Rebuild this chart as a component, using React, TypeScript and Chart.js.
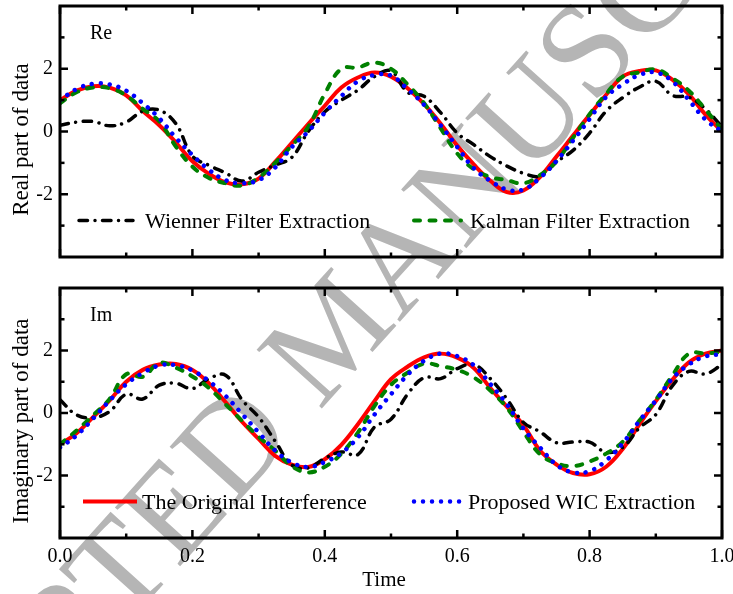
import React, { useEffect, useRef } from 'react';
import { Chart, registerables } from 'chart.js';

Chart.register(...registerables);

// ---------- data ----------
const TIME = [
  0, 0.025, 0.05, 0.075, 0.1, 0.125, 0.15, 0.175, 0.2, 0.225,
  0.25, 0.275, 0.3, 0.325, 0.35, 0.375, 0.4, 0.425, 0.45, 0.475,
  0.5, 0.525, 0.55, 0.575, 0.6, 0.625, 0.65, 0.675, 0.7, 0.725,
  0.75, 0.775, 0.8, 0.825, 0.85, 0.875, 0.9, 0.925, 0.95, 0.975, 1.0,
];

const RE_ORIGINAL = [
  1.0, 1.3, 1.44, 1.4, 1.15, 0.65, 0.2, -0.35, -0.95, -1.35,
  -1.62, -1.68, -1.5, -0.97, -0.37, 0.24, 0.82, 1.4, 1.72, 1.88,
  1.75, 1.38, 0.87, 0.25, -0.45, -1.05, -1.57, -1.93, -1.88, -1.45,
  -0.8, -0.13, 0.53, 1.17, 1.75, 1.93, 1.95, 1.65, 1.18, 0.54, 0.0,
];
const RE_WIENER = [
  0.2, 0.3, 0.32, 0.18, 0.3, 0.65, 0.68, 0.25, -0.78, -1.08,
  -1.32, -1.58, -1.3, -1.07, -0.83, 0.0, 0.63, 1.0, 1.32, 1.75,
  1.93, 1.25, 1.12, 0.6, -0.05, -0.42, -0.8, -1.1, -1.33, -1.42,
  -0.97, -0.6, -0.05, 0.65, 1.08, 1.41, 1.6, 1.15, 1.09, 0.72, 0.15,
];
const RE_KALMAN = [
  0.9, 1.25, 1.4, 1.38, 1.15, 0.72, 0.32, -0.48, -1.12, -1.48,
  -1.65, -1.72, -1.47, -1.0, -0.45, 0.15, 1.2, 2.0, 2.04, 2.2,
  2.0, 1.5, 0.9, 0.1, -0.7, -1.2, -1.45, -1.55, -1.65, -1.39,
  -0.95, -0.2, 0.55, 1.2, 1.75, 1.88, 1.98, 1.7, 1.3, 0.7, 0.05,
];
const RE_PROPOSED = [
  1.0, 1.35, 1.52, 1.5, 1.3, 0.9, 0.42, -0.2, -0.75, -1.22,
  -1.55, -1.65, -1.55, -1.15, -0.5, 0.0, 0.6, 1.13, 1.6, 1.8,
  1.78, 1.35, 0.85, 0.2, -0.49, -1.17, -1.57, -1.85, -1.85, -1.48,
  -0.94, -0.29, 0.4, 1.1, 1.5, 1.8, 1.88, 1.6, 1.0, 0.38, 0.0,
];

const IM_ORIGINAL = [
  -1.0, -0.65, -0.13, 0.4, 1.0, 1.38, 1.55, 1.57, 1.38, 0.95,
  0.35, -0.28, -0.83, -1.37, -1.65, -1.73, -1.48, -1.02, -0.36, 0.38,
  1.08, 1.48, 1.78, 1.9, 1.77, 1.44, 0.8, 0.2, -0.39, -1.2,
  -1.65, -1.92, -1.96, -1.72, -1.15, -0.37, 0.38, 1.06, 1.62, 1.9, 2.0,
];
const IM_WIENER = [
  0.42, -0.06, -0.15, 0.05, 0.6, 0.45, 0.89, 0.95, 0.78, 1.1,
  1.21, 0.42, -0.13, -0.9, -1.66, -1.76, -1.45, -1.25, -1.33, -0.45,
  -0.2, 0.6, 1.13, 1.1, 1.42, 1.55, 1.1, 0.45, -0.3, -0.6,
  -0.95, -0.93, -0.93, -1.26, -1.1, -0.48, -0.05, 0.87, 1.33, 1.25, 1.55,
];
const IM_KALMAN = [
  -1.0, -0.56, -0.07, 0.45, 1.24, 1.16, 1.6, 1.45, 1.17, 0.8,
  0.28, -0.25, -0.76, -1.2, -1.7, -1.9, -1.72, -1.3, -0.63, 0.22,
  0.9, 1.29, 1.58, 1.5, 1.38, 1.14, 0.72, 0.17, -0.6, -1.32,
  -1.61, -1.7, -1.55, -1.3, -0.92, -0.25, 0.42, 1.2, 1.9, 1.91, 1.95,
];
const IM_PROPOSED = [
  -1.1, -0.72, -0.18, 0.4, 0.92, 1.28, 1.52, 1.53, 1.36, 1.02,
  0.55, -0.03, -0.62, -1.2, -1.58, -1.73, -1.57, -1.28, -0.78, -0.05,
  0.6, 1.22, 1.67, 1.9, 1.82, 1.53, 0.93, 0.28, -0.5, -1.1,
  -1.66, -1.9, -1.86, -1.52, -0.97, -0.26, 0.4, 1.1, 1.55, 1.81, 1.88,
];

const X_MAJOR = [0, 0.2, 0.4, 0.6, 0.8, 1.0];
const X_MINOR = [0.1, 0.3, 0.5, 0.7, 0.9];
const Y_MAJOR = [-2, 0, 2];
const Y_MINOR = [-3, -1, 1, 3];

const LABEL_ORIGINAL = 'The Original Interference';
const LABEL_WIENER = 'Wienner Filter Extraction';
const LABEL_KALMAN = 'Kalman Filter Extraction';
const LABEL_PROPOSED = 'Proposed WIC Extraction';

// ---------- styles ----------
const FONT = '"Liberation Serif", "Times New Roman", serif';

type LineStyle = { color: string; width: number; dash: number[]; cap: CanvasLineCap };
const ST_ORIGINAL: LineStyle = { color: '#ff0000', width: 4, dash: [], cap: 'butt' };
const ST_WIENER: LineStyle = { color: '#000000', width: 3.5, dash: [8.5, 7.5, 0.01, 7.5], cap: 'round' };
const ST_KALMAN: LineStyle = { color: '#008000', width: 4, dash: [6, 9.5], cap: 'round' };
const ST_PROPOSED: LineStyle = { color: '#0000ff', width: 4.5, dash: [0.01, 9], cap: 'round' };

type LegendItem = { st: LineStyle; x1: number; x2: number; tx: number; text: string };
type PanelCfg = {
  label: string;
  yTitle: string;
  showX: boolean;
  legend: LegendItem[];
  series: { label: string; values: number[]; st: LineStyle; order: number }[];
  height: number;
  top: number;
  padTop: number;
  padBottom: number;
  xHeight: number;
};

function makeDataset(label: string, values: number[], st: LineStyle, order: number) {
  return {
    label,
    data: TIME.map((t, i) => ({ x: t, y: values[i] })),
    borderColor: st.color,
    backgroundColor: st.color,
    borderWidth: st.width,
    borderDash: st.dash,
    borderCapStyle: st.cap,
    borderJoinStyle: 'round' as CanvasLineJoin,
    pointRadius: 0,
    tension: 0.4,
    fill: false,
    order,
  };
}

function decorPlugin(cfg: PanelCfg) {
  return {
    id: 'decor',
    afterDatasetsDraw(chart: any) {
      const { ctx, chartArea: a, scales } = chart;
      const xs = scales.x;
      const ys = scales.y;
      ctx.save();
      ctx.setLineDash([]);
      ctx.strokeStyle = '#000';
      ctx.lineCap = 'butt';
      ctx.lineWidth = 3;
      ctx.strokeRect(a.left, a.top, a.right - a.left, a.bottom - a.top);
      ctx.lineWidth = 2.5;
      const seg = (x1: number, y1: number, x2: number, y2: number) => {
        ctx.beginPath();
        ctx.moveTo(x1, y1);
        ctx.lineTo(x2, y2);
        ctx.stroke();
      };
      for (const v of X_MAJOR) {
        const p = xs.getPixelForValue(v);
        seg(p, a.top, p, a.top + 8);
        seg(p, a.bottom, p, a.bottom - 8);
      }
      for (const v of X_MINOR) {
        const p = xs.getPixelForValue(v);
        seg(p, a.top, p, a.top + 4.5);
        seg(p, a.bottom, p, a.bottom - 4.5);
      }
      for (const v of Y_MAJOR) {
        const p = ys.getPixelForValue(v);
        seg(a.left, p, a.left + 8, p);
        seg(a.right, p, a.right - 8, p);
      }
      for (const v of Y_MINOR) {
        const p = ys.getPixelForValue(v);
        seg(a.left, p, a.left + 4.5, p);
        seg(a.right, p, a.right - 4.5, p);
      }

      ctx.fillStyle = '#000';
      ctx.textAlign = 'left';
      ctx.textBaseline = 'alphabetic';
      ctx.font = `20px ${FONT}`;
      ctx.fillText(cfg.label, 90, a.top + 33);

      // y title
      ctx.save();
      ctx.translate(22, (a.top + a.bottom) / 2 + 8);
      ctx.rotate(-Math.PI / 2);
      ctx.textAlign = 'center';
      ctx.textBaseline = 'middle';
      ctx.font = `23px ${FONT}`;
      ctx.fillText(cfg.yTitle, 0, 0);
      ctx.restore();

      if (cfg.showX) {
        ctx.textAlign = 'center';
        ctx.textBaseline = 'middle';
        ctx.font = `21px ${FONT}`;
        ctx.fillText('Time', 384, a.bottom + 42);
      }

      // legend
      const ly = a.bottom - 36.5;
      for (const it of cfg.legend) {
        ctx.save();
        ctx.strokeStyle = it.st.color;
        ctx.lineWidth = it.st.width;
        ctx.setLineDash(it.st.dash);
        ctx.lineCap = it.st.cap;
        ctx.beginPath();
        ctx.moveTo(it.x1, ly);
        ctx.lineTo(it.x2, ly);
        ctx.stroke();
        ctx.restore();
        ctx.textAlign = 'left';
        ctx.textBaseline = 'alphabetic';
        ctx.font = `22px ${FONT}`;
        ctx.fillText(it.text, it.tx, ly + 7.5);
      }
      ctx.restore();
    },
  };
}

function Panel({ cfg }: { cfg: PanelCfg }) {
  const ref = useRef<HTMLCanvasElement | null>(null);
  useEffect(() => {
    if (!ref.current) return;
    const chart = new Chart(ref.current, {
      type: 'line',
      data: {
        datasets: cfg.series.map((s) => makeDataset(s.label, s.values, s.st, s.order)) as any,
      },
      options: {
        animation: false,
        responsive: false,
        devicePixelRatio: 1,
        events: [],
        layout: { padding: { left: 0, right: 11, top: cfg.padTop, bottom: cfg.padBottom } },
        plugins: { legend: { display: false }, tooltip: { enabled: false }, title: { display: false } },
        scales: {
          x: {
            type: 'linear',
            min: 0,
            max: 1,
            grid: { display: false, drawTicks: false },
            border: { display: false },
            ticks: {
              display: cfg.showX,
              font: { family: FONT, size: 20 },
              color: '#000',
              padding: 7,
              maxRotation: 0,
              autoSkip: false,
              callback: (v: any) => Number(v).toFixed(1),
            },
            afterBuildTicks: (s: any) => {
              s.ticks = X_MAJOR.map((v) => ({ value: v }));
            },
            afterFit: (s: any) => {
              s.height = cfg.xHeight;
              s.paddingLeft = 0;
              s.paddingRight = 0;
            },
          },
          y: {
            type: 'linear',
            min: -4,
            max: 4,
            grid: { display: false, drawTicks: false },
            border: { display: false },
            ticks: {
              font: { family: FONT, size: 20 },
              color: '#000',
              padding: 7,
              callback: (v: any) => String(v),
            },
            afterBuildTicks: (s: any) => {
              s.ticks = Y_MAJOR.map((v) => ({ value: v }));
            },
            afterFit: (s: any) => {
              s.width = 60;
              s.paddingTop = 0;
              s.paddingBottom = 0;
            },
          },
        },
      } as any,
      plugins: [decorPlugin(cfg) as any],
    });
    return () => chart.destroy();
  }, [cfg]);
  return (
    <canvas
      ref={ref}
      width={733}
      height={cfg.height}
      style={{ position: 'absolute', left: 0, top: cfg.top, width: 733, height: cfg.height, display: 'block' }}
    />
  );
}

const TOP_CFG: PanelCfg = {
  label: 'Re',
  yTitle: 'Real part of data',
  showX: false,
  legend: [
    { st: ST_WIENER, x1: 79, x2: 133, tx: 145, text: LABEL_WIENER },
    { st: ST_KALMAN, x1: 414, x2: 461, tx: 470, text: LABEL_KALMAN },
  ],
  series: [
    { label: LABEL_ORIGINAL, values: RE_ORIGINAL, st: ST_ORIGINAL, order: 4 },
    { label: LABEL_WIENER, values: RE_WIENER, st: ST_WIENER, order: 3 },
    { label: LABEL_KALMAN, values: RE_KALMAN, st: ST_KALMAN, order: 2 },
    { label: LABEL_PROPOSED, values: RE_PROPOSED, st: ST_PROPOSED, order: 1 },
  ],
  height: 270,
  top: 0,
  padTop: 6,
  padBottom: 13,
  xHeight: 0,
};

const BOTTOM_CFG: PanelCfg = {
  label: 'Im',
  yTitle: 'Imaginary part of data',
  showX: true,
  legend: [
    { st: ST_ORIGINAL, x1: 83, x2: 137, tx: 142, text: LABEL_ORIGINAL },
    { st: ST_PROPOSED, x1: 414, x2: 460, tx: 468, text: LABEL_PROPOSED },
  ],
  series: [
    { label: LABEL_ORIGINAL, values: IM_ORIGINAL, st: ST_ORIGINAL, order: 4 },
    { label: LABEL_WIENER, values: IM_WIENER, st: ST_WIENER, order: 3 },
    { label: LABEL_KALMAN, values: IM_KALMAN, st: ST_KALMAN, order: 2 },
    { label: LABEL_PROPOSED, values: IM_PROPOSED, st: ST_PROPOSED, order: 1 },
  ],
  height: 324,
  top: 270,
  padTop: 18,
  padBottom: 0,
  xHeight: 56,
};

export default function App() {
  return (
    <div
      style={{
        position: 'absolute',
        left: 0,
        top: 0,
        width: 733,
        height: 594,
        overflow: 'hidden',
        background: '#fff',
      }}
    >
      <div style={{ position: 'absolute', left: 332, top: 330, width: 0, height: 0 }}>
        <div
          style={{
            position: 'absolute',
            left: 0,
            top: 0,
            transform: 'translate(-50%, -50%) rotate(-48deg)',
            fontFamily: FONT,
            fontSize: 134,
            lineHeight: 1,
            color: '#b5b5b5',
            whiteSpace: 'nowrap',
          }}
        >
          ACCEPTED MANUSCRIPT
        </div>
      </div>
      <Panel cfg={TOP_CFG} />
      <Panel cfg={BOTTOM_CFG} />
    </div>
  );
}
